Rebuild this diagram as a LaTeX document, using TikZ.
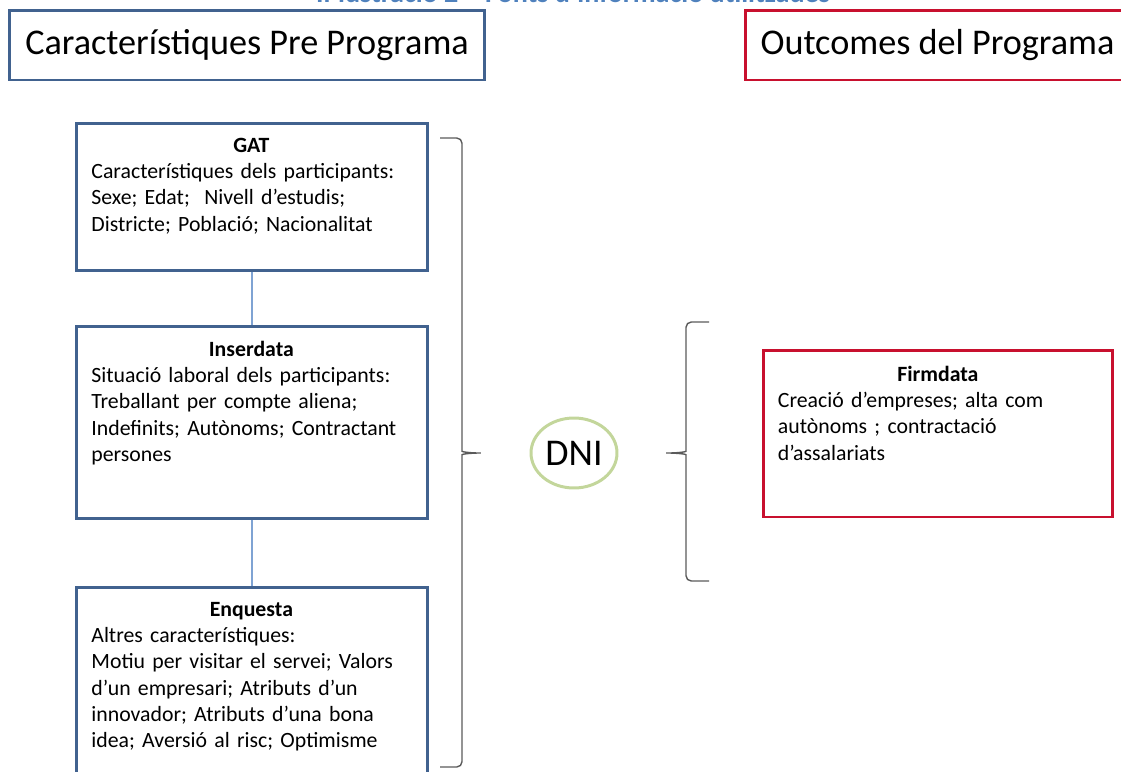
\documentclass[tikz,border=0pt]{standalone}
\usepackage{fontspec}
\setmainfont{Carlito}
\usepackage{xcolor}
\usetikzlibrary{positioning,shapes.geometric}

\definecolor{boxblue}{HTML}{41628F}
\definecolor{boxred}{HTML}{C8102E}
\definecolor{linkblue}{HTML}{7FA3D3}
\definecolor{dnigreen}{HTML}{C3D69B}
\definecolor{captionblue}{HTML}{4F81BD}
\definecolor{bracegray}{HTML}{5A5A5A}

\tikzset{
  srcbox/.style={draw=boxblue, line width=1.7pt, rectangle, minimum width=7.02cm, inner sep=0pt},
  outbox/.style={srcbox, draw=boxred},
  boxtext/.style={inner sep=0pt, text width=6.4cm, align=left, font=\fontsize{12.4}{15}\selectfont\frenchspacing},
  headbox/.style={draw, line width=1.7pt, minimum height=1.4cm, inner sep=0pt, font=\fontsize{20.6}{24}\selectfont},
  bracket/.style={draw=bracegray, thick, rounded corners=3pt},
}

\begin{document}
\begin{tikzpicture}[x=0.02cm, y=-0.02cm]
  \useasboundingbox (0,0) rectangle (1121,771);
  \clip (0,0) rectangle (1121,771);
  % Caption, cut by the top edge
  \node[captionblue, font=\bfseries\fontsize{16}{18}\selectfont, anchor=base] (caption) at (573,2)
    {Il·lustració 2 – Fonts d’informació utilitzades};
  % Headers
  \node[headbox, draw=boxblue, minimum width=9.52cm] (pre) at (247,45) {Característiques Pre Programa};
  \node[headbox, draw=boxred, minimum width=7.7cm] (post) at (937.5,45) {Outcomes del Programa};
  % Sources before the programme
  \foreach \name/\y/\h/\head/\lines in {
    gat/197/2.96cm/GAT/{Característiques dels participants:\\Sexe; Edat;~ Nivell d’estudis;\\Districte; Població; Nacionalitat},
    inser/422.5/3.86cm/Inserdata/{Situació laboral dels participants:\\Treballant per compte aliena;\\Indefinits; Autònoms; Contractant\\persones},
    enq/688.5/4.06cm/Enquesta/{Altres característiques:\\Motiu per visitar el servei; Valors\\d’un empresari; Atributs d’un\\innovador; Atributs d’una bona\\idea; Aversió al risc; Optimisme}
  } {
    \node[srcbox, minimum height=\h] (\name) at (252,\y) {};
    \node[boxtext, below right=0.32cm and 0.32cm of \name.north west] (\name-txt)
      {\makebox[6.4cm]{\bfseries\head}\\\lines};
  }
  % Links between sources
  \foreach \a/\b in {gat/inser, inser/enq}
    \draw[linkblue, line width=0.8pt] (\a.south) -- (\b.north);
  % Left brace
  \coordinate (lbtop) at (440,138);
  \coordinate (lbtip) at (484,453);
  \coordinate (lbbot) at (440,767);
  \draw[bracket] (lbtop) -| (462,446) .. controls (462,452) and (472,453) .. (lbtip)
    .. controls (472,453) and (462,454) .. (462,460) |- (lbbot);
  % Key
  \node[draw=dnigreen, line width=1.7pt, ellipse, minimum width=1.72cm, minimum height=1.4cm,
    inner sep=0pt, font=\fontsize{21.5}{24}\selectfont] (dni) at (574,453) {DNI};
  % Right brace
  \coordinate (rbtop) at (709,322);
  \coordinate (rbtip) at (663,453);
  \coordinate (rbbot) at (709,581);
  \draw[bracket] (rbtop) -| (686,446) .. controls (686,452) and (676,453) .. (rbtip)
    .. controls (676,453) and (686,454) .. (686,460) |- (rbbot);
  % Outcomes
  \node[outbox, minimum width=7.0cm, minimum height=3.34cm] (firm) at (938,433.5) {};
  \node[boxtext, below right=0.34cm and 0.32cm of firm.north west] (firm-txt)
    {\makebox[6.4cm]{\bfseries Firmdata}\\Creació d’empreses; alta com\\autònoms ; contractació\\d’assalariats};
\end{tikzpicture}
\end{document}
